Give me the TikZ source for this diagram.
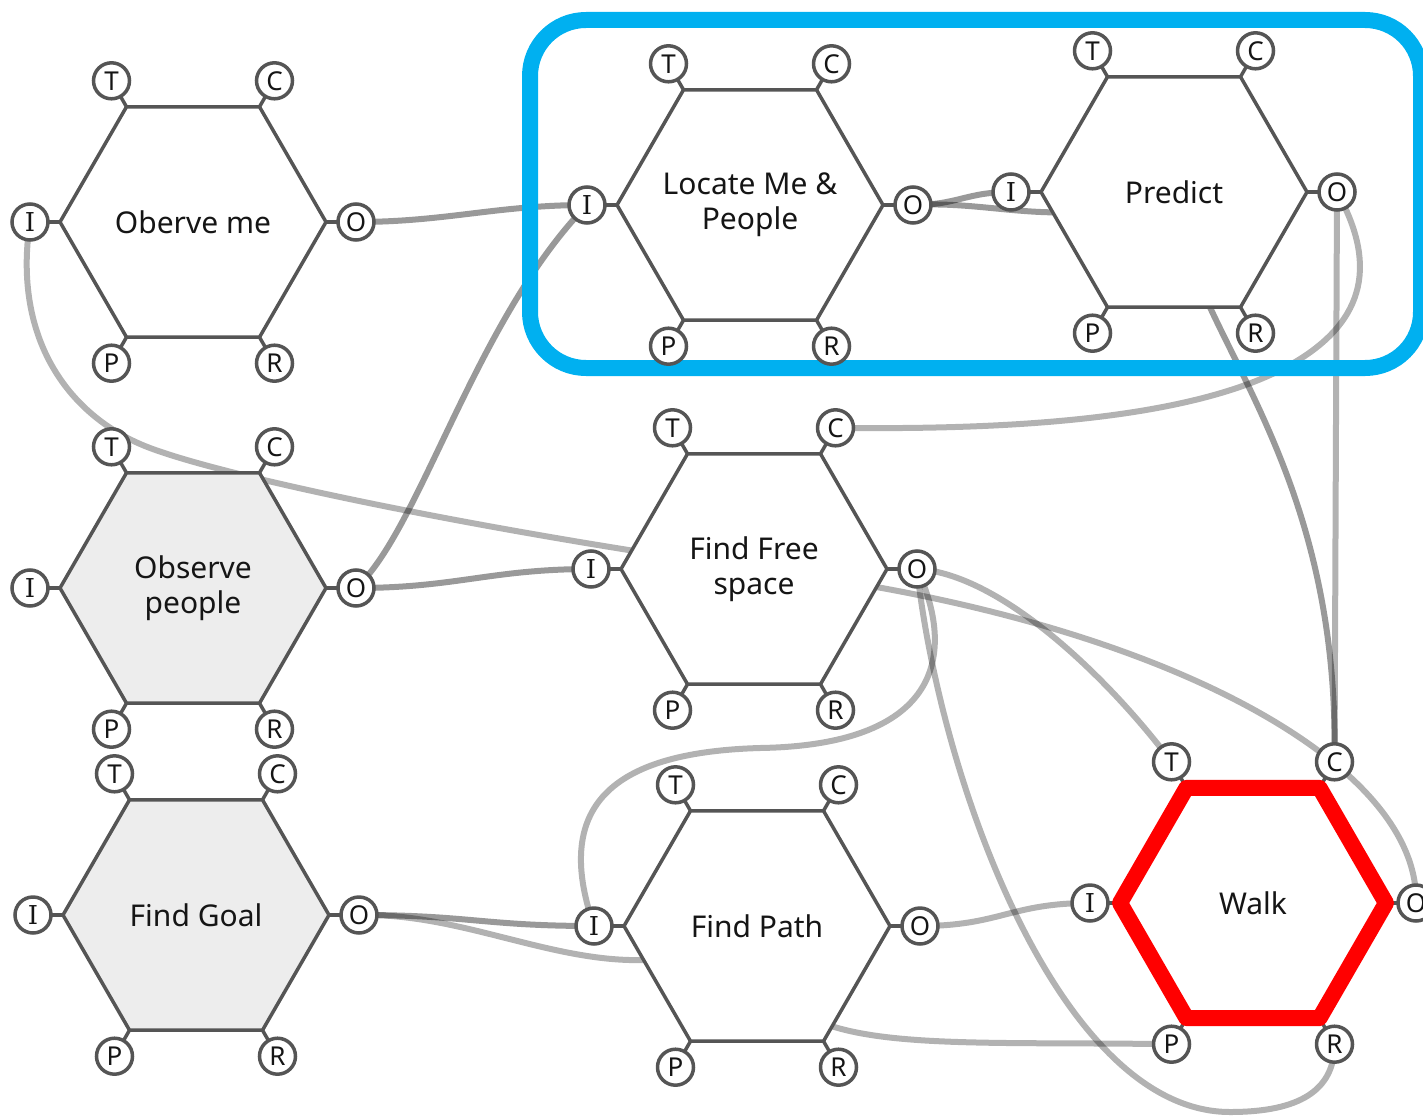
\documentclass[tikz,border=0pt]{standalone}
\usepackage{fontspec}
\setmainfont{Noto Sans}
\newfontfamily\slabI{DejaVu Serif}
\usetikzlibrary{shapes.geometric,calc}
\pgfdeclarelayer{wires}
\pgfdeclarelayer{stubs}
\pgfsetlayers{wires,stubs,main}

\definecolor{edgegray}{HTML}{555555}
\definecolor{hexfill}{HTML}{EDEDED}
\definecolor{groupblue}{HTML}{00B0F0}
\definecolor{walkred}{HTML}{FF0000}
\definecolor{labelink}{HTML}{151515}

\tikzset{
  hexa/.style={regular polygon, regular polygon sides=6, minimum size=266pt,
    inner sep=0pt, outer sep=0pt, draw=edgegray, line width=3.5pt, fill=white},
  hexlabel/.style={inner sep=0pt, align=center, text=labelink,
    font=\fontsize{30}{35}\selectfont},
  shaded/.style={fill=hexfill},
  active/.style={draw=walkred, line width=16pt, line join=round},
  port/.style={circle, minimum size=36pt, inner sep=0pt, draw=edgegray,
    line width=3.5pt, fill=white, text=labelink, font=\fontsize{26}{26}\selectfont},
  stub/.style={draw=edgegray, line width=3.5pt},
  wire/.style={line width=6pt, draw=black, draw opacity=0.3},
  wiredark/.style={wire, draw opacity=0.4},
  group/.style={draw=groupblue, line width=16pt, rounded corners=56pt},
}

% one module: hexagon, its caption and its six ports I, O, T, C, P, R
\newcommand\hexmodule[4]{%
  \node[hexa,#3] (#1) at (#2) {};
  \node[hexlabel] (#1-label) at (#1.center) {#4};
  \foreach \pname/\ptext/\dx/\dy in {I/{\slabI I}/-163/0, O/O/163/0,
      T/T/-81.5/-141.2, C/C/81.5/-141.2, P/P/-81.5/141.2, R/R/81.5/141.2}{
    \node[port] (#1-\pname) at ($(#1.center)+(\dx,\dy)$) {\ptext};
    \begin{pgfonlayer}{stubs}
      \draw[stub] (#1.center) -- (#1-\pname.center);
    \end{pgfonlayer}
  }%
}

\begin{document}
\begin{tikzpicture}[x=1pt,y=-1pt]
\useasboundingbox (0,0) rectangle (1423,1118);

% group frame
\draw[group] (530,20) rectangle (1421,368);

% modules
\hexmodule{me}{193,222}{}{Oberve me}
\hexmodule{loc}{750,205}{}{Locate Me \&\\People}
\hexmodule{pre}{1174,192}{}{Predict}
\hexmodule{peo}{193,588}{shaded}{Observe\\people}
\hexmodule{free}{754,569}{}{Find Free\\space}
\hexmodule{goal}{196,915}{shaded}{Find Goal}
\hexmodule{path}{757,926}{}{Find Path}
\hexmodule{walk}{1253,903}{active}{Walk}

% connections
\begin{pgfonlayer}{wires}
\draw[wiredark] (me-O.center) .. controls +(90,0) and +(-90,0) .. (loc-I.center);
\draw[wire] (me-I.center) .. controls (12,340) and (70,418) .. (150,448)
  .. controls (230,478) and (480,530) .. (free.center);
\draw[wiredark] (peo-O.center) .. controls (420,530) and (475,320) .. (loc-I.center);
\draw[wiredark] (peo-O.center) .. controls +(100,0) and +(-100,0) .. (free-I.center);
\draw[wiredark] (loc-O.center) .. controls +(45,0) and +(-45,0) .. (pre-I.center);
\draw[wiredark] (loc-O.center) .. controls +(87,-5) and (1060,232) .. (pre.center);
\draw[wire] (pre-O.center) .. controls (1375,260) and (1370,320) .. (1290,365)
  .. controls (1190,421) and (1000,430) .. (free-C.center);
\draw[wire] (pre-O.center) -- (walk-C.center);
\draw[wiredark] (pre.center) .. controls (1185,330) and (1340,450) .. (walk-C.center);
\draw[wire] (free-O.center) .. controls +(85,5) and (1110,680) .. (walk-T.center);
\draw[wire] (free.center) .. controls (1150,615) and (1420,760) .. (walk-O.center);
\draw[wire] (free-O.center) .. controls (955,650) and (945,745) .. (760,748)
  .. controls (620,752) and (550,800) .. (path-I.center);
\draw[wire] (free-O.center) .. controls (940,780) and (1060,1112) .. (1230,1112)
  .. controls (1300,1112) and (1334.5,1090) .. (walk-R.center);
\draw[wiredark] (goal-O.center) .. controls +(110,0) and +(-110,0) .. (path-I.center);
\draw[wire] (goal-O.center) .. controls (500,912) and (620,1010) .. (path.center);
\draw[wire] (path-O.center) .. controls +(80,0) and +(-80,0) .. (walk-I.center);
\draw[wire] (path.center) .. controls (760,1060) and (900,1040) .. (walk-P.center);
\end{pgfonlayer}
\end{tikzpicture}
\end{document}
